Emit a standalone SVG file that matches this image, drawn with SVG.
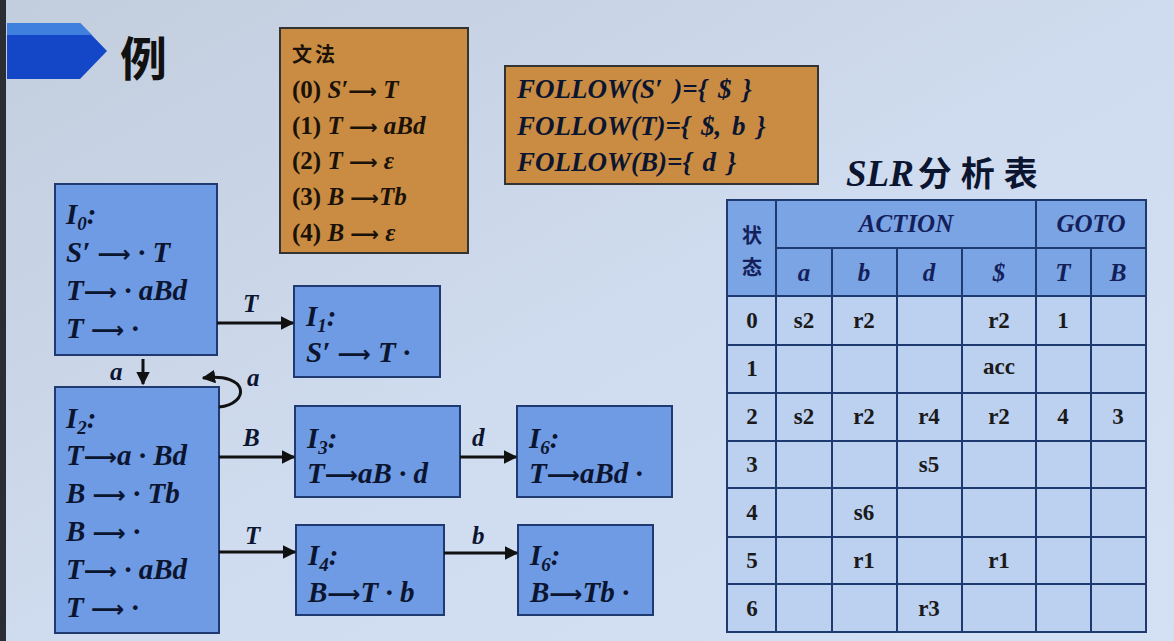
<svg xmlns="http://www.w3.org/2000/svg" width="1174" height="641" viewBox="0 0 1174 641">
<defs>
<linearGradient id="bg" x1="0" y1="0" x2="1" y2="1">
<stop offset="0" stop-color="#c2cddd"/>
<stop offset="0.5" stop-color="#cfdbee"/>
<stop offset="1" stop-color="#d4e0f3"/>
</linearGradient>
<marker id="ah" viewBox="0 0 10 10" refX="9" refY="5" markerWidth="4.5" markerHeight="4.5" orient="auto" markerUnits="strokeWidth">
<path d="M0,0 L10,5 L0,10 z" fill="#111"/>
</marker>
<style>
.node{fill:#6e9be4;stroke:#1f3a70;stroke-width:2}
.gram{fill:#c98c42;stroke:#333;stroke-width:2}
.m{font-family:"Liberation Serif","Times New Roman",serif;font-weight:bold;font-style:italic;fill:#0c1530}
.nt{font-size:29px}
.gt{font-size:25px;font-family:"Liberation Serif",serif;font-weight:bold;fill:#1a1208}
.ft{font-size:27px;word-spacing:4px}
.ar{font-family:"DejaVu Sans",sans-serif;font-style:normal;font-weight:bold;font-size:0.8em}
.edge{stroke:#111;stroke-width:3;fill:none;marker-end:url(#ah)}
.lbl{font-size:25px}
.hc{fill:#7aa4e4;stroke:#1f3a70;stroke-width:2}
.dc{fill:#bcd0f0;stroke:#1f3a70;stroke-width:2}
.ht{font-family:"Liberation Serif",serif;font-weight:bold;font-style:italic;font-size:25px;fill:#14205a;text-anchor:middle}
.tc{font-family:"Liberation Serif",serif;font-size:23px;font-weight:bold;fill:#1a1a1a;text-anchor:middle}
.cjk{font-family:"Noto Sans CJK SC",sans-serif;font-weight:bold}
</style>
</defs>
<rect width="1174" height="641" fill="url(#bg)"/>
<rect x="0" y="0" width="6" height="641" fill="#2a2d33"/>

<g id="title">
<polygon points="7,23 80,23 107,51 80,79 7,79" fill="#1446c8"/>
<polygon points="7,23 80,23 92,35 7,35" fill="#3f7fde"/>
<text x="120" y="76" class="cjk" font-size="47" fill="#111">例</text>
</g>

<g id="grammar">
<rect x="280" y="28" width="188" height="225" class="gram"/>
<text x="292" y="62" class="cjk" font-size="20" fill="#1a1208" letter-spacing="3">文法</text>
<text x="292" y="98" class="gt">(0) <tspan font-style="italic">S′<tspan class="ar">⟶</tspan> T</tspan></text>
<text x="292" y="134" class="gt">(1) <tspan font-style="italic">T <tspan class="ar">⟶</tspan> aBd</tspan></text>
<text x="292" y="169" class="gt">(2) <tspan font-style="italic">T <tspan class="ar">⟶</tspan>   ε</tspan></text>
<text x="292" y="205" class="gt">(3) <tspan font-style="italic">B <tspan class="ar">⟶</tspan>Tb</tspan></text>
<text x="292" y="241" class="gt">(4) <tspan font-style="italic">B <tspan class="ar">⟶</tspan>   ε</tspan></text>
</g>

<g id="follow">
<rect x="505" y="66" width="313" height="118" class="gram"/>
<text x="517" y="98" class="m ft" fill="#1a1208">FOLLOW(S′ )={ $ }</text>
<text x="517" y="135" class="m ft">FOLLOW(T)={ $, b }</text>
<text x="517" y="171" class="m ft">FOLLOW(B)={ d }</text>
</g>

<g id="I0">
<rect x="55" y="184" width="162" height="171" class="node"/>
<text x="66" y="224" class="m nt">I<tspan font-size="19" dy="6">0</tspan><tspan dy="-6">:</tspan></text>
<text x="66" y="262" class="m nt">S′ <tspan class="ar">⟶</tspan> · T</text>
<text x="66" y="300" class="m nt">T<tspan class="ar">⟶</tspan> · aBd</text>
<text x="66" y="338" class="m nt">T <tspan class="ar">⟶</tspan> ·</text>
</g>

<g id="I1">
<rect x="294" y="286" width="146" height="91" class="node"/>
<text x="306" y="326" class="m nt">I<tspan font-size="19" dy="6">1</tspan><tspan dy="-6">:</tspan></text>
<text x="306" y="362" class="m nt">S′ <tspan class="ar">⟶</tspan> T ·</text>
</g>

<g id="I2">
<rect x="55" y="387" width="164" height="246" class="node"/>
<text x="66" y="428" class="m nt">I<tspan font-size="19" dy="6">2</tspan><tspan dy="-6">:</tspan></text>
<text x="66" y="465" class="m nt">T<tspan class="ar">⟶</tspan>a · Bd</text>
<text x="66" y="503" class="m nt">B <tspan class="ar">⟶</tspan> · Tb</text>
<text x="66" y="541" class="m nt">B <tspan class="ar">⟶</tspan> ·</text>
<text x="66" y="579" class="m nt">T<tspan class="ar">⟶</tspan> · aBd</text>
<text x="66" y="617" class="m nt">T <tspan class="ar">⟶</tspan> ·</text>
</g>

<g id="I3">
<rect x="295" y="406" width="165" height="91" class="node"/>
<text x="307" y="448" class="m nt">I<tspan font-size="19" dy="6">3</tspan><tspan dy="-6">:</tspan></text>
<text x="307" y="483" class="m nt">T<tspan class="ar">⟶</tspan>aB · d</text>
</g>

<g id="I5">
<rect x="517" y="406" width="155" height="91" class="node"/>
<text x="529" y="448" class="m nt">I<tspan font-size="19" dy="6">6</tspan><tspan dy="-6">:</tspan></text>
<text x="529" y="483" class="m nt">T<tspan class="ar">⟶</tspan>aBd ·</text>
</g>

<g id="I4">
<rect x="296" y="525" width="148" height="90" class="node"/>
<text x="308" y="565" class="m nt">I<tspan font-size="19" dy="6">4</tspan><tspan dy="-6">:</tspan></text>
<text x="308" y="602" class="m nt">B<tspan class="ar">⟶</tspan>T · b</text>
</g>

<g id="I6">
<rect x="518" y="525" width="135" height="90" class="node"/>
<text x="530" y="565" class="m nt">I<tspan font-size="19" dy="6">6</tspan><tspan dy="-6">:</tspan></text>
<text x="530" y="602" class="m nt">B<tspan class="ar">⟶</tspan>Tb ·</text>
</g>

<g id="connectors">
<line x1="217" y1="323" x2="293" y2="323" class="edge"/>
<text x="243" y="312" class="m lbl" fill="#111">T</text>
<line x1="143" y1="359" x2="143" y2="384" class="edge"/>
<text x="110" y="380" class="m lbl" fill="#111">a</text>
<path d="M219,407 C250,404 250,372 203,378" class="edge"/>
<text x="247" y="386" class="m lbl" fill="#111">a</text>
<line x1="219" y1="457" x2="294" y2="457" class="edge"/>
<text x="243" y="446" class="m lbl" fill="#111">B</text>
<line x1="219" y1="552" x2="295" y2="552" class="edge"/>
<text x="245" y="544" class="m lbl" fill="#111">T</text>
<line x1="460" y1="457" x2="516" y2="457" class="edge"/>
<text x="472" y="446" class="m lbl" fill="#111">d</text>
<line x1="444" y1="553" x2="517" y2="553" class="edge"/>
<text x="472" y="544" class="m lbl" fill="#111">b</text>
</g>

<g id="table">
<text x="846" y="186" class="m" font-size="37" fill="#111">SLR<tspan class="cjk" font-style="normal" font-weight="500" font-size="34" dx="4" letter-spacing="9">分析表</tspan></text>
<rect x="727" y="200" width="49" height="96" class="hc"/>
<rect x="776" y="200" width="260" height="48" class="hc"/>
<rect x="1036" y="200" width="110" height="48" class="hc"/>
<rect x="776" y="248" width="56" height="48" class="hc"/>
<rect x="832" y="248" width="65" height="48" class="hc"/>
<rect x="897" y="248" width="65" height="48" class="hc"/>
<rect x="962" y="248" width="74" height="48" class="hc"/>
<rect x="1036" y="248" width="55" height="48" class="hc"/>
<rect x="1091" y="248" width="55" height="48" class="hc"/>
<text x="752" y="243" class="cjk" font-size="20" fill="#14205a" text-anchor="middle">状</text>
<text x="752" y="275" class="cjk" font-size="20" fill="#14205a" text-anchor="middle">态</text>
<text x="906" y="232" class="ht">ACTION</text>
<text x="1091" y="232" class="ht">GOTO</text>
<text x="804" y="281" class="ht">a</text>
<text x="864" y="281" class="ht">b</text>
<text x="929" y="281" class="ht">d</text>
<text x="999" y="281" class="ht">$</text>
<text x="1063" y="281" class="ht">T</text>
<text x="1118" y="281" class="ht">B</text>
<g id="tbody">
<rect x="727" y="296" width="419" height="336" class="dc"/>
<path d="M727,345H1146M727,393H1146M727,441H1146M727,488H1146M727,537H1146M727,584H1146M776,296V632M832,296V632M897,296V632M962,296V632M1036,296V632M1091,296V632" stroke="#1f3a70" stroke-width="2" fill="none"/>
</g>
<text x="752" y="328" class="tc">0</text>
<text x="752" y="376" class="tc">1</text>
<text x="752" y="424" class="tc">2</text>
<text x="752" y="472" class="tc">3</text>
<text x="752" y="520" class="tc">4</text>
<text x="752" y="568" class="tc">5</text>
<text x="752" y="616" class="tc">6</text>
<text x="804" y="328" class="tc">s2</text>
<text x="864" y="328" class="tc">r2</text>
<text x="999" y="328" class="tc">r2</text>
<text x="1063" y="328" class="tc">1</text>
<text x="999" y="374" class="tc" font-weight="normal">acc</text>
<text x="804" y="424" class="tc">s2</text>
<text x="864" y="424" class="tc" fill="#8a1f3c">r2</text>
<text x="929" y="424" class="tc" fill="#2e5fd6">r4</text>
<text x="999" y="424" class="tc" fill="#8a1f3c">r2</text>
<text x="1063" y="424" class="tc">4</text>
<text x="1118" y="424" class="tc">3</text>
<text x="929" y="472" class="tc">s5</text>
<text x="864" y="520" class="tc">s6</text>
<text x="864" y="568" class="tc">r1</text>
<text x="999" y="568" class="tc">r1</text>
<text x="929" y="616" class="tc">r3</text>
</g>
</svg>
